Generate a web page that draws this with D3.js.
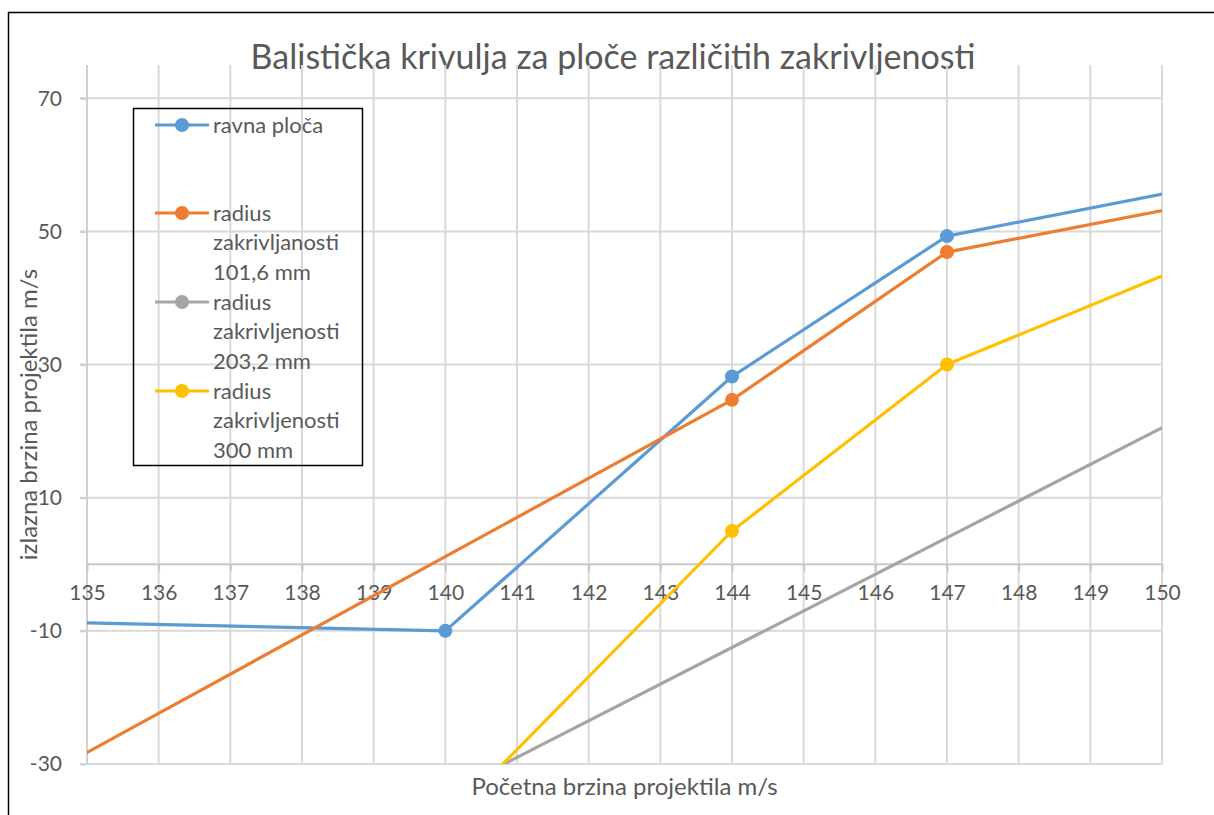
<!DOCTYPE html>
<html>
  <head>
    <meta charset="utf-8">
    <title>Balistička krivulja</title>
    <script src="https://d3js.org/d3.v7.min.js"></script>
  </head>
  <body style="margin:0;background:#fff">
    <svg class="chart" width="1214" height="815"></svg>
    <script>
// Data
var seriesNames = ["ravna ploča", "radius zakrivljenosti 101,6 mm", "radius zakrivljenosti 203,2 mm", "radius zakrivljenosti 300 mm"];
var legendLines = [["ravna ploča"], ["radius", "zakrivljanosti", "101,6 mm"], ["radius", "zakrivljenosti", "203,2 mm"], ["radius", "zakrivljenosti", "300 mm"]];
var colors = ["#5B9BD5", "#ED7D31", "#A5A5A5", "#FFC000"];
// points outside the axis range are clipped, as in the original
var ravnaX = [130, 140, 144, 147, 155];
var ravnaY = [-7.6, -10, 28.2, 49.3, 66.1];
var r101X = [130, 144, 147, 155];
var r101Y = [-57.7, 24.7, 46.9, 63.5];
var r203X = [135, 155];
var r203Y = [-62, 48];
var r300X = [140, 144, 147, 155];
var r300Y = [-38.8, 5, 30, 65.5];
var xTicks = d3.range(135, 151);
var yTicks = [-30, -10, 10, 30, 50, 70];

var allX = [ravnaX, r101X, r203X, r300X];
var allY = [ravnaY, r101Y, r203Y, r300Y];
var series = seriesNames.map(function (name, i) {
  return { name: name, color: colors[i], points: allX[i].map(function (x, j) { return [x, allY[i][j]]; }) };
});

var svg = d3.select("svg");
var font = "Lato, 'Open Sans', sans-serif";
var textColor = "#595959";

var pLeft = 87, pRight = 1162, pTop = 65, pBottom = 764;
var x = d3.scaleLinear().domain([135, 150]).range([pLeft, pRight]);
var y = d3.scaleLinear().domain([-30, 75]).range([pBottom, pTop]);

// outer frame
svg.append("rect")
    .attr("x", 8.5).attr("y", 12.5)
    .attr("width", 1230).attr("height", 830)
    .attr("fill", "none").attr("stroke", "#000").attr("stroke-width", 1.5);

// title
svg.append("text")
    .attr("x", 613).attr("y", 69)
    .attr("text-anchor", "middle")
    .attr("font-family", font).attr("font-size", 34)
    .attr("fill", textColor)
    .text("Balistička krivulja za ploče različitih zakrivljenosti");

// grid
svg.append("g").selectAll("line")
    .data(xTicks)
    .enter().append("line")
      .attr("x1", d => x(d)).attr("x2", d => x(d))
      .attr("y1", pTop).attr("y2", pBottom)
      .attr("stroke", "#d9d9d9").attr("stroke-width", 2);
svg.append("g").selectAll("line")
    .data(yTicks)
    .enter().append("line")
      .attr("x1", pLeft - 7).attr("x2", pRight)
      .attr("y1", d => y(d)).attr("y2", d => y(d))
      .attr("stroke", "#d9d9d9").attr("stroke-width", 2);

// y axis
var yAxis = svg.append("g")
    .attr("transform", "translate(" + pLeft + ",0)")
    .call(d3.axisLeft(y).tickValues(yTicks).tickSize(7).tickPadding(18).tickFormat(d => String(d)));
yAxis.select(".domain").attr("stroke", "#d0d0d0").attr("stroke-width", 2)
    .attr("d", "M0," + pTop + "V" + pBottom);
yAxis.selectAll(".tick line").attr("stroke", "#d0d0d0").attr("stroke-width", 2);
yAxis.selectAll("text").attr("font-family", font).attr("font-size", 21).attr("fill", textColor);

// x axis at y = 0
var xAxis = svg.append("g")
    .attr("transform", "translate(0," + y(0) + ")")
    .call(d3.axisBottom(x).tickValues(xTicks).tickSize(7).tickPadding(14).tickFormat(d3.format("d")));
xAxis.select(".domain").attr("stroke", "#c8c8c8").attr("stroke-width", 2)
    .attr("d", "M" + pLeft + ",0H" + pRight);
xAxis.selectAll(".tick line").attr("stroke", "#c8c8c8").attr("stroke-width", 2);
xAxis.selectAll("text").attr("font-family", font).attr("font-size", 21).attr("fill", textColor);

// axis titles
svg.append("text")
    .attr("x", (pLeft + pRight) / 2).attr("y", 795)
    .attr("text-anchor", "middle")
    .attr("font-family", font).attr("font-size", 24).attr("fill", textColor)
    .text("Početna brzina projektila m/s");
svg.append("text")
    .attr("transform", "translate(37," + (pTop + pBottom) / 2 + ") rotate(-90)")
    .attr("text-anchor", "middle")
    .attr("font-family", font).attr("font-size", 24).attr("fill", textColor)
    .text("izlazna brzina projektila m/s");

// series
svg.append("clipPath").attr("id", "plot")
  .append("rect")
    .attr("x", pLeft).attr("y", pTop)
    .attr("width", pRight - pLeft).attr("height", pBottom - pTop);

var line = d3.line().x(d => x(d[0])).y(d => y(d[1]));
var plot = svg.append("g").attr("clip-path", "url(#plot)");
plot.selectAll("path")
    .data(series)
    .enter().append("path")
      .attr("d", d => line(d.points))
      .attr("fill", "none")
      .attr("stroke", d => d.color)
      .attr("stroke-width", 3.2)
      .attr("stroke-linejoin", "round");
series.forEach(function (s) {
  plot.selectAll(null)
      .data(s.points.filter(p => p[0] >= 135 && p[0] <= 150 && p[1] >= -30 && p[1] <= 75))
      .enter().append("circle")
        .attr("cx", d => x(d[0])).attr("cy", d => y(d[1]))
        .attr("r", 7)
        .attr("fill", s.color);
});

// legend
var legend = svg.append("g");
legend.append("rect")
    .attr("x", 133.5).attr("y", 108.5)
    .attr("width", 229).attr("height", 357)
    .attr("fill", "none").attr("stroke", "#000").attr("stroke-width", 1.5);
var rowY = [125, 213, 302, 391];
series.forEach(function (s, i) {
  var g = legend.append("g").attr("transform", "translate(0," + rowY[i] + ")");
  g.append("line").attr("x1", 155).attr("x2", 209).attr("y1", 0).attr("y2", 0)
      .attr("stroke", s.color).attr("stroke-width", 3.2);
  g.append("circle").attr("cx", 182).attr("cy", 0).attr("r", 7).attr("fill", s.color);
  g.selectAll("text")
      .data(legendLines[i])
      .enter().append("text")
        .attr("x", 213).attr("y", (d, j) => j * 29.7)
        .attr("dy", "0.35em")
        .attr("font-family", font).attr("font-size", 22).attr("fill", textColor)
        .text(d => d);
});
</script>
  </body>
</html>
